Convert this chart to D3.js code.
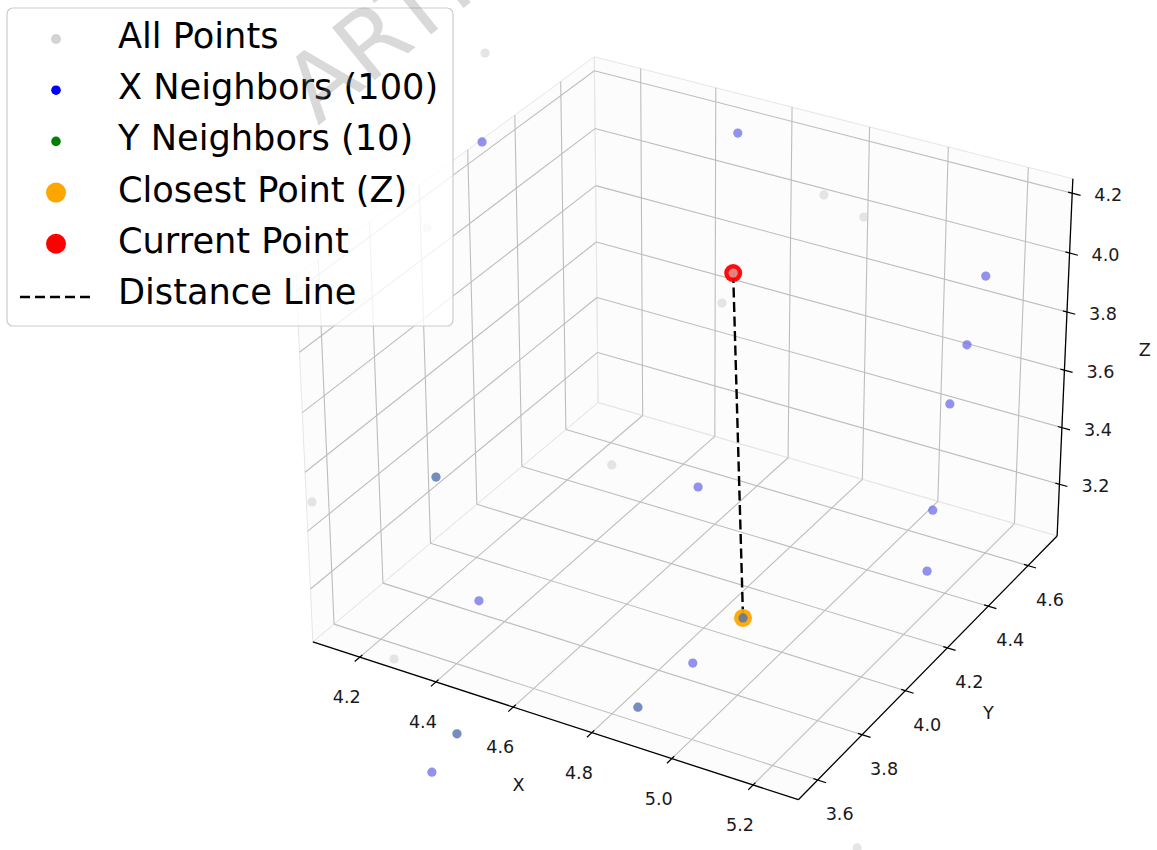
<!DOCTYPE html>
<html>
<head>
<meta charset="utf-8">
<script src="https://cdn.jsdelivr.net/npm/d3@7"></script>
<style>
  html, body { margin: 0; padding: 0; background: #ffffff; }
  svg { display: block; font-family: "DejaVu Sans", sans-serif; }
</style>
</head>
<body>
<svg id="chart" width="1157" height="850"></svg>
<script>
// ---------- data ----------
// every point of the data set (index 0 = current point, 1 = closest point)
const pointX = [4.696, 4.906, 4.140, 4.627, 5.183, 5.185, 5.185, 5.211, 5.234, 4.747, 4.389, 4.880, 4.543,
                4.238, 4.846, 4.569, 4.097, 4.082, 3.731, 4.827, 4.916, 4.691, 4.569, 4.013, 4.309, 5.459];
const pointY = [4.311, 3.991, 4.159, 4.451, 4.589, 4.502, 4.426, 4.305, 4.240, 4.067, 3.714, 3.813, 3.273,
                3.785, 3.633, 3.336, 4.247, 4.015, 3.882, 4.487, 4.510, 4.270, 3.992, 3.624, 3.489, 3.503];
const pointZ = [3.985, 3.102, 4.320, 4.343, 3.977, 3.801, 3.650, 3.378, 3.222, 3.437, 3.146, 3.065, 2.951,
                3.463, 3.033, 3.046, 4.548, 4.100, 4.241, 4.185, 4.128, 3.908, 3.494, 3.399, 3.075, 2.929];
const currentIdx = 0;
const closestIdx = 1;
const xNeighborIdx = [1, 2, 3, 4, 5, 6, 7, 8, 9, 10, 11, 12, 13, 14, 15];
const yNeighborIdx = [1, 13, 14, 15];

const xLimits = [4.075, 5.31];
const yLimits = [3.515, 4.75];
const zLimits = [3.015, 4.248];
const xTicks = [4.2, 4.4, 4.6, 4.8, 5.0, 5.2];
const yTicks = [3.6, 3.8, 4.0, 4.2, 4.4, 4.6];
const zTicks = [3.2, 3.4, 3.6, 3.8, 4.0, 4.2];
const axisNames = ["X", "Y", "Z"];
const legendLabels = ["All Points", "X Neighbors (100)", "Y Neighbors (10)",
                      "Closest Point (Z)", "Current Point", "Distance Line"];
const watermarkText = "ARTI";

// ---------- 3D view (elevation / azimuth camera with perspective) ----------
const elev = 30, azim = -60, eyeDist = 10;
const aspectNorm = 1.8294640721620434 / Math.hypot(4, 4, 3);
const box = [4 * aspectNorm, 4 * aspectNorm, 3 * aspectNorm];

const bx = d3.scaleLinear().domain(xLimits).range([-box[0] / 2, box[0] / 2]);
const by = d3.scaleLinear().domain(yLimits).range([-box[1] / 2, box[1] / 2]);
const bz = d3.scaleLinear().domain(zLimits).range([-box[2] / 2, box[2] / 2]);

const dot = (a, b) => a[0] * b[0] + a[1] * b[1] + a[2] * b[2];
const cross = (a, b) => [a[1] * b[2] - a[2] * b[1], a[2] * b[0] - a[0] * b[2], a[0] * b[1] - a[1] * b[0]];
const norm = a => { const l = Math.hypot(a[0], a[1], a[2]); return a.map(c => c / l); };

const er = elev * Math.PI / 180, ar = azim * Math.PI / 180;
const viewW = [Math.cos(er) * Math.cos(ar), Math.cos(er) * Math.sin(ar), Math.sin(er)];
const viewU = norm(cross([0, 0, 1], viewW));
const viewV = cross(viewW, viewU);

const screenX = d3.scaleLinear().domain([-0.1, 0.1]).range([691.6 - 486.8, 691.6 + 486.8]);
const screenY = d3.scaleLinear().domain([-0.1, 0.1]).range([411.1 + 486.8, 411.1 - 486.8]);

function project(x, y, z) {
  const d = [bx(x), by(y), bz(z)];
  const depth = eyeDist - dot(viewW, d);
  return [screenX(dot(viewU, d) / depth), screenY(dot(viewV, d) / depth)];
}

const svg = d3.select("#chart");
const line = d3.line();
const [x0, x1] = xLimits, [y0, y1] = yLimits, [z0, z1] = zLimits;

// ---------- panes ----------
const panes = [
  [[x0, y0, z0], [x0, y1, z0], [x0, y1, z1], [x0, y0, z1]],
  [[x0, y1, z0], [x1, y1, z0], [x1, y1, z1], [x0, y1, z1]],
  [[x0, y0, z0], [x1, y0, z0], [x1, y1, z0], [x0, y1, z0]]
];
svg.append("g").selectAll("path").data(panes).join("path")
  .attr("d", p => line(p.map(c => project(...c))) + "Z")
  .attr("fill", "#f2f2f2").attr("fill-opacity", 0.2)
  .attr("stroke", "#e6e6e6").attr("stroke-width", 1);

// ---------- grid ----------
const gridSegs = [];
xTicks.forEach(t => { gridSegs.push([[t, y0, z0], [t, y1, z0]]); gridSegs.push([[t, y1, z0], [t, y1, z1]]); });
yTicks.forEach(t => { gridSegs.push([[x0, t, z0], [x1, t, z0]]); gridSegs.push([[x0, t, z0], [x0, t, z1]]); });
zTicks.forEach(t => { gridSegs.push([[x0, y0, t], [x0, y1, t]]); gridSegs.push([[x0, y1, t], [x1, y1, t]]); });
svg.append("g").selectAll("path").data(gridSegs).join("path")
  .attr("d", s => line(s.map(c => project(...c))))
  .attr("fill", "none").attr("stroke", "#bdbdbd").attr("stroke-width", 1.1);

// ---------- axes ----------
const axG = svg.append("g");
const axisSegs = [
  [[x0, y0, z0], [x1, y0, z0]],
  [[x1, y0, z0], [x1, y1, z0]],
  [[x1, y1, z0], [x1, y1, z1]]
];
axG.selectAll("path.axis").data(axisSegs).join("path").attr("class", "axis")
  .attr("d", s => line(s.map(c => project(...c))))
  .attr("fill", "none").attr("stroke", "#000").attr("stroke-width", 1.3);

const xr = x1 - x0, yr = y1 - y0;
const tickSegs = [];
xTicks.forEach(t => tickSegs.push([[t, y0 - yr / 60, z0], [t, y0 + yr / 120, z0]]));
yTicks.forEach(t => tickSegs.push([[x1 + xr / 60, t, z0], [x1 - xr / 120, t, z0]]));
zTicks.forEach(t => tickSegs.push([[x1 + xr / 60, y1, t], [x1 - xr / 120, y1, t]]));
axG.selectAll("path.tick").data(tickSegs).join("path").attr("class", "tick")
  .attr("d", s => line(s.map(c => project(...c))))
  .attr("fill", "none").attr("stroke", "#000").attr("stroke-width", 1.2);

const tickLabels = [];
xTicks.forEach(t => { const p = project(t, y0, z0); tickLabels.push({ x: p[0] - 13, y: p[1] + 40, t }); });
yTicks.forEach(t => { const p = project(x1, t, z0); tickLabels.push({ x: p[0] + 22, y: p[1] + 34, t }); });
zTicks.forEach(t => { const p = project(x1, y1, t); tickLabels.push({ x: p[0] + 36, y: p[1] + 2, t }); });
axG.selectAll("text.tl").data(tickLabels).join("text").attr("class", "tl")
  .attr("x", d => d.x).attr("y", d => d.y)
  .attr("text-anchor", "middle").attr("dominant-baseline", "central")
  .attr("font-size", 17.6).attr("fill", "#1a1a1a")
  .text(d => d3.format(".1f")(d.t));

const xm = (x0 + x1) / 2, ym = (y0 + y1) / 2, zm = (z0 + z1) / 2;
const axisLabelPos = [
  (() => { const p = project(xm, y0, z0); return [p[0] - 31, p[1] + 66]; })(),
  (() => { const p = project(x1, ym, z0); return [p[0] + 55, p[1] + 51]; })(),
  (() => { const p = project(x1, y1, zm); return [p[0] + 80, p[1] - 11]; })()
];
axG.selectAll("text.al").data(axisNames).join("text").attr("class", "al")
  .attr("x", (d, i) => axisLabelPos[i][0]).attr("y", (d, i) => axisLabelPos[i][1])
  .attr("text-anchor", "middle").attr("dominant-baseline", "central")
  .attr("font-size", 17.6).attr("fill", "#1a1a1a")
  .text(d => d);

// ---------- data marks ----------
const P = i => project(pointX[i], pointY[i], pointZ[i]);
const dataG = svg.append("g");

dataG.append("path")
  .attr("d", line([P(currentIdx), P(closestIdx)]))
  .attr("fill", "none").attr("stroke", "#000").attr("stroke-width", 2.4)
  .attr("stroke-dasharray", "10,4.5");

dataG.append("circle").datum(currentIdx)
  .attr("cx", i => P(i)[0]).attr("cy", i => P(i)[1]).attr("r", 9)
  .attr("fill", "red").attr("fill-opacity", 0.95);
dataG.append("circle").datum(closestIdx)
  .attr("cx", i => P(i)[0]).attr("cy", i => P(i)[1]).attr("r", 9)
  .attr("fill", "orange").attr("fill-opacity", 0.95);

const allIdx = d3.range(pointX.length);
dataG.append("g").selectAll("circle").data(allIdx).join("circle")
  .attr("cx", i => P(i)[0]).attr("cy", i => P(i)[1]).attr("r", 4.6)
  .attr("fill", "lightgray").attr("fill-opacity", 0.6);
dataG.append("g").selectAll("circle").data(xNeighborIdx).join("circle")
  .attr("cx", i => P(i)[0]).attr("cy", i => P(i)[1]).attr("r", 4.6)
  .attr("fill", "blue").attr("fill-opacity", 0.36);
dataG.append("g").selectAll("circle").data(yNeighborIdx).join("circle")
  .attr("cx", i => P(i)[0]).attr("cy", i => P(i)[1]).attr("r", 4.6)
  .attr("fill", "green").attr("fill-opacity", 0.2);

// ---------- legend ----------
const legend = svg.append("g").attr("transform", "translate(7,8)");
legend.append("rect").attr("width", 446).attr("height", 318).attr("rx", 6)
  .attr("fill", "#fff").attr("fill-opacity", 0.8)
  .attr("stroke", "#cccccc").attr("stroke-width", 1.2);
const legendSwatch = [
  { c: "lightgray", r: 5 }, { c: "blue", r: 4.8 }, { c: "green", r: 4.8 },
  { c: "orange", r: 10 }, { c: "red", r: 10 }, { c: "line" }
];
const rowStep = 51.2;
legendLabels.forEach((lab, i) => {
  const sw = legendSwatch[i];
  const cy = 31 + i * rowStep;
  if (sw.c === "line") {
    legend.append("line").attr("x1", 13).attr("x2", 83).attr("y1", cy + 2).attr("y2", cy + 2)
      .attr("stroke", "#000").attr("stroke-width", 2.4).attr("stroke-dasharray", "10,5");
  } else {
    legend.append("circle").attr("cx", 49).attr("cy", cy).attr("r", sw.r).attr("fill", sw.c);
  }
  legend.append("text").attr("x", 111).attr("y", 40 + i * rowStep)
    .attr("font-size", 35.2).attr("fill", "#000").text(lab);
});

// ---------- watermark ----------
svg.append("text")
  .attr("transform", "translate(318,126) rotate(-39)")
  .attr("font-size", 93).attr("fill", "#808080").attr("fill-opacity", 0.3)
  .text(watermarkText);
</script>
</body>
</html>
